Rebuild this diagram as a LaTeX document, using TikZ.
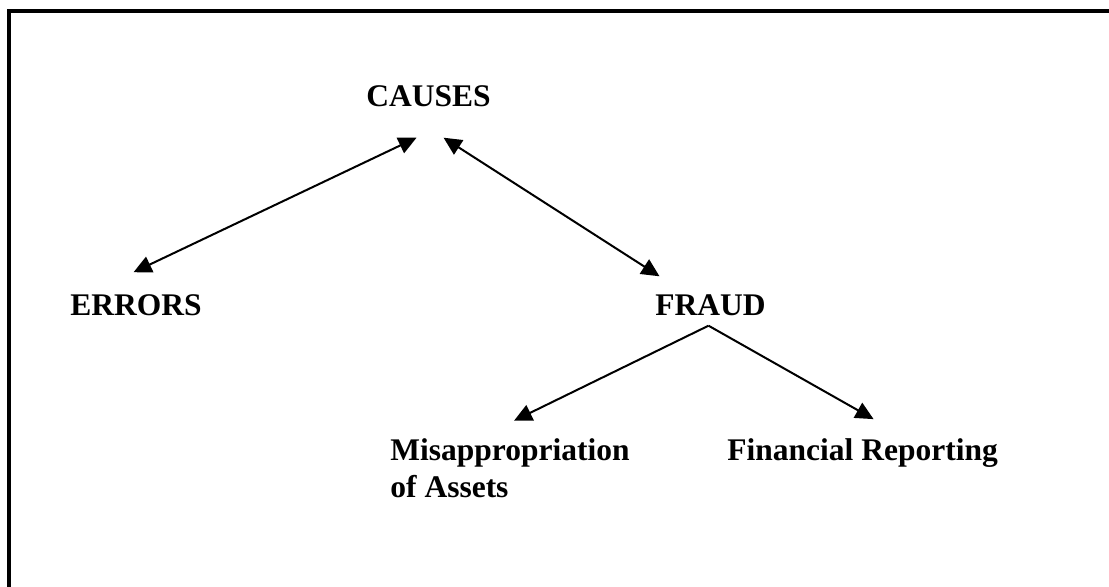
\documentclass[tikz,border=0pt]{standalone}
\usepackage{fontspec}
\setmainfont{Liberation Serif}
\usetikzlibrary{arrows.meta}
\begin{document}
\begin{tikzpicture}[x=0.5pt,y=-0.5pt,
    lbl/.style={inner sep=0pt,anchor=base west,align=left,font=\bfseries\fontsize{15.75pt}{18.5pt}\selectfont},
    oneway/.style={line width=1pt,-{Triangle[length=9pt,width=8.5pt]}},
    twoway/.style={line width=1pt,{Triangle[length=9pt,width=8.5pt]}-{Triangle[length=9pt,width=8.5pt]}}]
        \useasboundingbox (0,0) rectangle (1109,587);
        \draw[line width=2pt] (1109,11) -- (8.5,11) -- (8.5,587);
        \node[lbl] at (366,107) (causes) {CAUSES};
        \node[lbl] at (70,316) (errors) {ERRORS};
        \node[lbl] at (655,316) (fraud) {FRAUD};
        \node[lbl] at (390,498) (misap) {Misappropriation\\of Assets};
        \node[lbl] at (727,461) (finrep) {Financial Reporting};
        \coordinate (split) at ([xshift=-1pt,yshift=-4.5pt]fraud.south);
        \draw[twoway] ([xshift=-1.25pt,yshift=11.25pt]errors.north) -- ([xshift=-6pt,yshift=-15pt]causes.south);
        \draw[twoway] ([xshift=-25.5pt,yshift=9.25pt]fraud.north) -- ([xshift=7.5pt,yshift=-15pt]causes.south);
        \draw[oneway] (split) -- ([xshift=2pt,yshift=9pt]misap.north);
        \draw[oneway] (split) -- ([xshift=5.5pt,yshift=9.8pt]finrep.north);
    \end{tikzpicture}
\end{document}
